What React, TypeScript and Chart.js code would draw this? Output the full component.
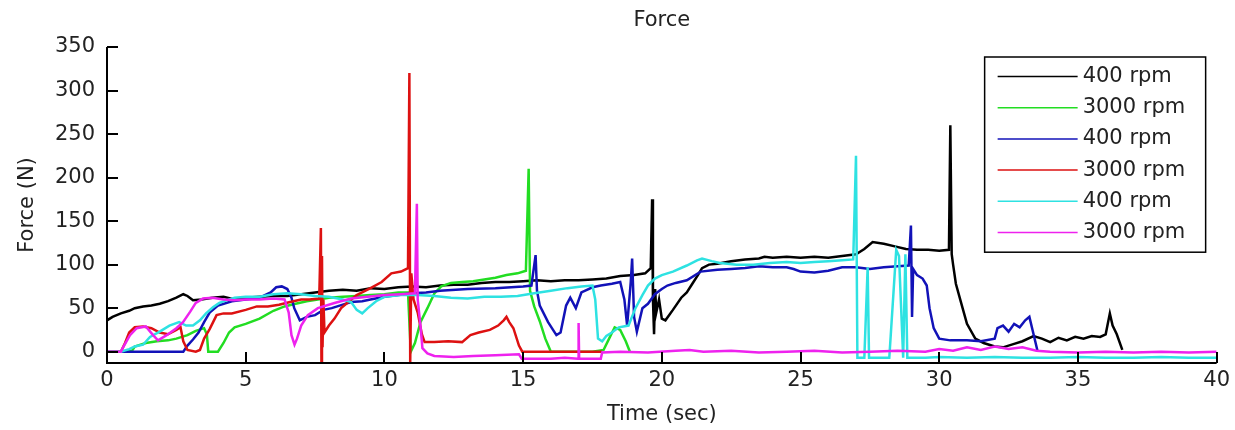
import React, { useEffect, useRef } from "react";
import { Chart, registerables } from "chart.js";

Chart.register(...registerables);

const TITLE = "Force";
const X_LABEL = "Time (sec)";
const Y_LABEL = "Force (N)";
const X_TICKS = [0, 5, 10, 15, 20, 25, 30, 35, 40];
const Y_TICKS = [0, 50, 100, 150, 200, 250, 300, 350];
const X_RANGE = [0, 40];
const Y_RANGE = [-13, 350];

const SERIES_LABELS = ["400 rpm", "3000 rpm", "400 rpm", "3000 rpm", "400 rpm", "3000 rpm"];
const SERIES_COLORS = ["#000000", "#22dd22", "#1212b8", "#dd1111", "#2ee2e2", "#ee22ee"];

// [time (sec), force (N)]
const black400: number[][] = [
  [0, 36], [0.2, 40], [0.5, 44], [0.8, 47], [1.0, 50], [1.3, 52], [1.6, 53], [1.9, 55], [2.2, 58], [2.5, 62],
  [2.75, 66], [2.9, 64], [3.1, 59], [3.4, 60], [3.8, 62], [4.2, 63], [4.6, 60], [5.0, 62], [5.5, 63], [6.0, 64],
  [6.5, 64], [7.0, 66], [7.5, 68], [8.0, 70], [8.5, 71], [9.0, 70], [9.5, 73], [10.0, 72], [10.5, 74], [11.0, 75],
  [11.5, 74], [12.0, 76], [12.5, 77], [13.0, 77], [13.5, 79], [14.0, 80], [14.5, 80], [15.0, 81], [15.5, 82],
  [16.0, 81], [16.5, 82], [17.0, 82], [17.5, 83], [18.0, 84], [18.5, 87], [19.0, 88], [19.4, 90], [19.6, 96],
  [19.65, 175], [19.68, 60], [19.72, 20], [19.76, 72], [19.8, 45], [19.9, 60], [20.0, 38], [20.13, 36], [20.4, 48],
  [20.7, 62], [20.9, 68], [21.1, 78], [21.3, 88], [21.45, 96], [21.7, 100], [22.0, 101], [22.5, 104], [23.0, 106],
  [23.5, 107], [23.7, 109], [24.0, 108], [24.5, 109], [25.0, 108], [25.5, 109], [26.0, 108], [26.5, 110], [27.0, 112],
  [27.3, 118], [27.6, 126], [28.0, 124], [28.4, 121], [28.8, 118], [29.2, 117], [29.6, 117], [30.0, 116], [30.35, 117],
  [30.4, 260], [30.45, 112], [30.5, 100], [30.6, 78], [30.8, 55], [31.0, 32], [31.3, 15], [31.6, 10], [32.0, 6],
  [32.3, 5], [32.7, 9], [33.0, 12], [33.4, 18], [33.7, 15], [34.0, 11], [34.3, 16], [34.6, 13], [34.9, 17], [35.2, 15],
  [35.5, 18], [35.8, 17], [36.0, 20], [36.15, 44], [36.25, 30], [36.4, 20], [36.6, 2],
];

const green3000: number[][] = [
  [0, 0], [0.5, 0], [0.9, 1], [1.0, 6], [1.4, 10], [1.8, 12], [2.2, 13], [2.5, 15], [2.9, 19], [3.2, 24], [3.5, 27],
  [3.6, 20], [3.65, 0], [4.0, 0], [4.2, 10], [4.4, 22], [4.6, 28], [5.0, 32], [5.5, 38], [6.0, 47], [6.4, 52],
  [6.8, 55], [7.2, 58], [7.6, 60], [8.0, 62], [8.5, 63], [9.0, 64], [9.5, 65], [10.0, 66], [10.5, 68], [10.85, 68],
  [10.95, 0], [11.1, 10], [11.3, 34], [11.55, 50], [11.8, 67], [12.05, 75], [12.4, 79], [12.8, 80], [13.2, 81],
  [13.6, 83], [14.0, 85], [14.4, 88], [14.8, 90], [15.1, 93], [15.2, 210], [15.25, 70], [15.4, 52], [15.6, 35],
  [15.8, 15], [16.0, 0], [16.5, 0], [17.0, 0], [17.5, 0], [17.9, 2], [18.1, 15], [18.3, 28], [18.5, 25], [18.7, 12],
  [18.85, 0],
];

const blue400: number[][] = [
  [0, 0], [0.5, 0], [1.0, 0], [1.5, 0], [2.0, 0], [2.5, 0], [2.75, 0], [2.9, 7], [3.1, 14], [3.3, 22], [3.5, 34],
  [3.7, 45], [4.0, 53], [4.5, 58], [5.0, 60], [5.5, 62], [5.9, 68], [6.1, 74], [6.3, 75], [6.5, 72], [6.65, 62],
  [6.75, 50], [6.95, 36], [7.2, 40], [7.5, 42], [7.8, 48], [8.1, 50], [8.5, 54], [8.8, 57], [9.2, 58], [9.5, 60],
  [10.0, 63], [10.5, 65], [11.0, 67], [11.5, 68], [12.0, 70], [13.0, 72], [14.0, 73], [15.0, 75], [15.3, 76],
  [15.45, 111], [15.5, 70], [15.6, 53], [15.9, 34], [16.2, 19], [16.35, 22], [16.55, 53], [16.7, 62], [16.9, 50],
  [17.1, 68], [17.3, 71], [17.5, 74], [17.8, 76], [18.2, 78], [18.5, 80], [18.65, 60], [18.75, 30], [18.88, 80],
  [18.93, 107], [19.0, 40], [19.1, 23], [19.3, 50], [19.5, 55], [19.75, 66], [20.0, 72], [20.2, 76], [20.5, 79],
  [20.9, 82], [21.4, 92], [22.0, 94], [22.5, 95], [23.0, 96], [23.5, 98], [24.0, 97], [24.5, 97], [24.75, 95],
  [25.0, 92], [25.5, 91], [26.0, 93], [26.5, 97], [27.0, 97], [27.5, 95], [28.0, 97], [28.5, 98], [28.9, 99],
  [28.98, 145], [29.02, 40], [29.06, 95], [29.2, 88], [29.4, 84], [29.55, 76], [29.65, 50], [29.8, 27], [30.0, 15],
  [30.4, 13], [31.0, 13], [31.5, 12], [32.0, 15], [32.1, 27], [32.3, 30], [32.5, 23], [32.7, 32], [32.9, 28],
  [33.1, 36], [33.25, 40], [33.4, 20], [33.55, 0],
];

const red3000: number[][] = [
  [0, 0], [0.5, 0], [0.65, 10], [0.8, 22], [1.0, 28], [1.3, 29], [1.6, 27], [1.9, 22], [2.2, 20], [2.5, 25],
  [2.65, 28], [2.75, 12], [2.9, 2], [3.2, 0], [3.35, 2], [3.5, 15], [3.7, 26], [3.95, 42], [4.2, 44], [4.5, 44],
  [5.0, 48], [5.4, 52], [5.8, 52], [6.2, 54], [6.6, 57], [7.0, 60], [7.3, 60], [7.65, 61], [7.71, 142], [7.73, -12],
  [7.75, 110], [7.77, 5], [7.8, 60], [7.84, 22], [8.0, 30], [8.2, 38], [8.44, 50], [8.7, 57], [9.0, 65], [9.5, 73],
  [9.9, 80], [10.25, 90], [10.6, 92], [10.85, 96], [10.9, 320], [10.93, -12], [10.97, 90], [11.05, 60], [11.2, 45],
  [11.35, 20], [11.45, 11], [11.8, 11], [12.3, 12], [12.8, 11], [13.1, 19], [13.4, 22], [13.8, 25], [14.1, 30],
  [14.3, 36], [14.4, 40], [14.5, 34], [14.65, 27], [14.85, 7], [14.97, 0], [15.5, 0], [16.0, 0], [16.5, 0],
  [17.0, 0], [17.5, 0], [17.85, 0],
];

const cyan400: number[][] = [
  [0, 0], [0.5, 0], [0.8, 3], [1.0, 6], [1.3, 8], [1.55, 17], [1.9, 23], [2.25, 30], [2.6, 34], [2.85, 30],
  [3.1, 30], [3.35, 36], [3.57, 44], [3.82, 51], [4.05, 56], [4.3, 59], [4.6, 62], [5.0, 63], [5.5, 63], [6.0, 66],
  [6.5, 67], [7.0, 66], [7.5, 64], [8.0, 63], [8.5, 60], [8.8, 57], [9.0, 48], [9.2, 44], [9.4, 50], [9.7, 58],
  [10.0, 63], [10.6, 65], [11.2, 65], [11.8, 64], [12.4, 62], [13.0, 61], [13.6, 63], [14.2, 63], [14.8, 64],
  [15.4, 67], [16.0, 70], [16.6, 73], [17.1, 75], [17.5, 76], [17.6, 60], [17.7, 15], [17.85, 12], [18.0, 18],
  [18.2, 22], [18.45, 28], [18.8, 30], [19.05, 50], [19.3, 65], [19.5, 76], [19.75, 84], [20.0, 88], [20.4, 92],
  [20.9, 99], [21.27, 105], [21.45, 107], [21.8, 104], [22.1, 102], [22.7, 100], [23.3, 100], [23.9, 102],
  [24.5, 103], [25.0, 102], [25.5, 103], [26.0, 104], [26.5, 105], [26.9, 106], [27.0, 225], [27.05, -7],
  [27.3, -7], [27.42, 97], [27.47, -7], [27.9, -7], [28.2, -7], [28.45, 117], [28.55, 110], [28.7, -7],
  [28.78, 112], [28.85, -7], [29.5, -7], [30.0, -6], [31.0, -7], [32.0, -6], [33.0, -7], [34.0, -7], [35.0, -6],
  [36.0, -7], [37.0, -7], [38.0, -6], [39.0, -7], [40.0, -7],
];

const magenta3000: number[][] = [
  [0, 0], [0.5, 0], [0.58, 5], [0.83, 19], [1.07, 27], [1.4, 29], [1.66, 19], [1.84, 13], [2.15, 19], [2.5, 27],
  [2.74, 34], [3.0, 46], [3.2, 56], [3.46, 61], [3.8, 62], [4.2, 60], [4.6, 59], [5.0, 60], [5.5, 60], [6.0, 61],
  [6.4, 60], [6.55, 45], [6.65, 19], [6.76, 8], [6.85, 15], [7.0, 30], [7.24, 42], [7.6, 50], [8.2, 56], [8.8, 61],
  [9.4, 63], [10.0, 65], [10.6, 66], [11.1, 67], [11.17, 170], [11.2, 60], [11.3, 30], [11.37, 4], [11.55, -2],
  [11.8, -5], [12.5, -6], [13.2, -5], [14.0, -4], [14.85, -3], [14.95, -8], [15.5, -8], [16.0, -8], [16.5, -7],
  [16.98, -8], [17.0, 33], [17.02, -8], [17.5, -8], [17.8, -8], [17.85, -1], [18.5, 0], [19.5, -1], [20.5, 1],
  [21.0, 2], [21.5, 0], [22.5, 1], [23.5, -1], [24.5, 0], [25.5, 1], [26.5, -1], [27.5, 0], [28.5, 1], [29.5, 0],
  [30.0, 3], [30.5, 1], [31.0, 5], [31.5, 2], [32.0, 6], [32.5, 3], [33.0, 5], [33.5, 1], [34.0, 0], [35.0, -1],
  [36.0, 0], [37.0, -1], [38.0, 0], [39.0, -1], [40.0, 0],
];

const SERIES_DATA = [black400, green3000, blue400, red3000, cyan400, magenta3000];

const FONT_FAMILY = "'DejaVu Sans', sans-serif";
const TEXT_COLOR = "#222";

const inwardAxesPlugin = {
  id: "inwardAxes",
  afterDatasetsDraw(chart: any) {
    const { ctx, chartArea: a, scales } = chart;
    const x = scales.x;
    const y = scales.y;
    ctx.save();
    ctx.strokeStyle = "#000";
    ctx.lineWidth = 2;
    ctx.beginPath();
    ctx.moveTo(a.left, a.top);
    ctx.lineTo(a.left, a.bottom);
    ctx.lineTo(a.right, a.bottom);
    x.ticks.forEach((t: any) => {
      const px = Math.round(x.getPixelForValue(t.value));
      ctx.moveTo(px, a.bottom);
      ctx.lineTo(px, a.bottom - 11);
    });
    y.ticks.forEach((t: any) => {
      const py = Math.round(y.getPixelForValue(t.value));
      ctx.moveTo(a.left, py);
      ctx.lineTo(a.left + 11, py);
    });
    ctx.stroke();
    ctx.restore();
  },
};

const boxedLegendPlugin = {
  id: "boxedLegend",
  afterDraw(chart: any) {
    const { ctx, chartArea: a } = chart;
    const datasets = chart.data.datasets;
    const right = a.right - 11;
    const left = right - 221;
    const top = a.top + 10;
    const rowH = 31.2;
    const height = rowH * datasets.length + 8;
    ctx.save();
    ctx.fillStyle = "#fff";
    ctx.fillRect(left, top, right - left, height);
    ctx.strokeStyle = "#000";
    ctx.lineWidth = 1.5;
    ctx.strokeRect(left, top, right - left, height);
    ctx.font = `21px ${FONT_FAMILY}`;
    ctx.textBaseline = "middle";
    ctx.textAlign = "left";
    datasets.forEach((ds: any, i: number) => {
      const cy = top + 19.5 + i * rowH;
      ctx.strokeStyle = ds.borderColor;
      ctx.lineWidth = 1.5;
      ctx.beginPath();
      ctx.moveTo(left + 13, cy);
      ctx.lineTo(left + 93, cy);
      ctx.stroke();
      ctx.fillStyle = TEXT_COLOR;
      ctx.fillText(ds.label, left + 98, cy);
    });
    ctx.restore();
  },
};

export default function App() {
  const canvasRef = useRef<HTMLCanvasElement | null>(null);

  useEffect(() => {
    const canvas = canvasRef.current;
    if (!canvas) return;
    Chart.defaults.font.family = FONT_FAMILY;
    Chart.defaults.color = TEXT_COLOR;

    const datasets = SERIES_DATA.map((series, i) => ({
      label: SERIES_LABELS[i],
      data: series.map(([t, f]) => ({ x: t, y: f })),
      borderColor: SERIES_COLORS[i],
      backgroundColor: SERIES_COLORS[i],
      borderWidth: 2.5,
      pointRadius: 0,
      tension: 0,
      fill: false,
      order: SERIES_DATA.length - 1 - i,
    }));

    const chart = new Chart(canvas, {
      type: "line",
      data: { datasets },
      options: {
        responsive: false,
        animation: false,
        layout: { padding: { top: 0, right: 16, bottom: 0, left: 0 } },
        plugins: {
          legend: { display: false },
          tooltip: { enabled: false },
          title: {
            display: true,
            text: TITLE,
            fullSize: false,
            color: TEXT_COLOR,
            font: { size: 21, weight: "normal", family: FONT_FAMILY },
            padding: { top: 8, bottom: 13.8 },
          },
        },
        scales: {
          x: {
            type: "linear",
            min: X_RANGE[0],
            max: X_RANGE[1],
            afterBuildTicks: (scale: any) => {
              scale.ticks = X_TICKS.map((v) => ({ value: v }));
            },
            afterFit: (scale: any) => {
              scale.height = 67;
            },
            grid: { display: false, drawTicks: false },
            border: { display: false },
            ticks: {
              autoSkip: false,
              maxRotation: 0,
              padding: 5,
              color: TEXT_COLOR,
              font: { size: 21, family: FONT_FAMILY },
            },
            title: {
              display: true,
              text: X_LABEL,
              color: TEXT_COLOR,
              font: { size: 21, family: FONT_FAMILY },
              padding: { top: 0, bottom: 2.4 },
            },
          },
          y: {
            type: "linear",
            min: Y_RANGE[0],
            max: Y_RANGE[1],
            afterBuildTicks: (scale: any) => {
              scale.ticks = Y_TICKS.map((v) => ({ value: v }));
            },
            afterFit: (scale: any) => {
              scale.width = 107;
            },
            grid: { display: false, drawTicks: false },
            border: { display: false },
            ticks: {
              autoSkip: false,
              padding: 12,
              color: TEXT_COLOR,
              font: { size: 21, family: FONT_FAMILY },
            },
            title: {
              display: true,
              text: Y_LABEL,
              color: TEXT_COLOR,
              font: { size: 21, family: FONT_FAMILY },
              padding: { top: 15, bottom: 0 },
            },
          },
        },
      },
      plugins: [inwardAxesPlugin, boxedLegendPlugin],
    } as any);

    return () => chart.destroy();
  }, []);

  return (
    <div style={{ position: "absolute", left: 0, top: 0, width: 1235, height: 430, background: "#fff" }}>
      <canvas ref={canvasRef} width={1235} height={430} style={{ display: "block" }} />
    </div>
  );
}
